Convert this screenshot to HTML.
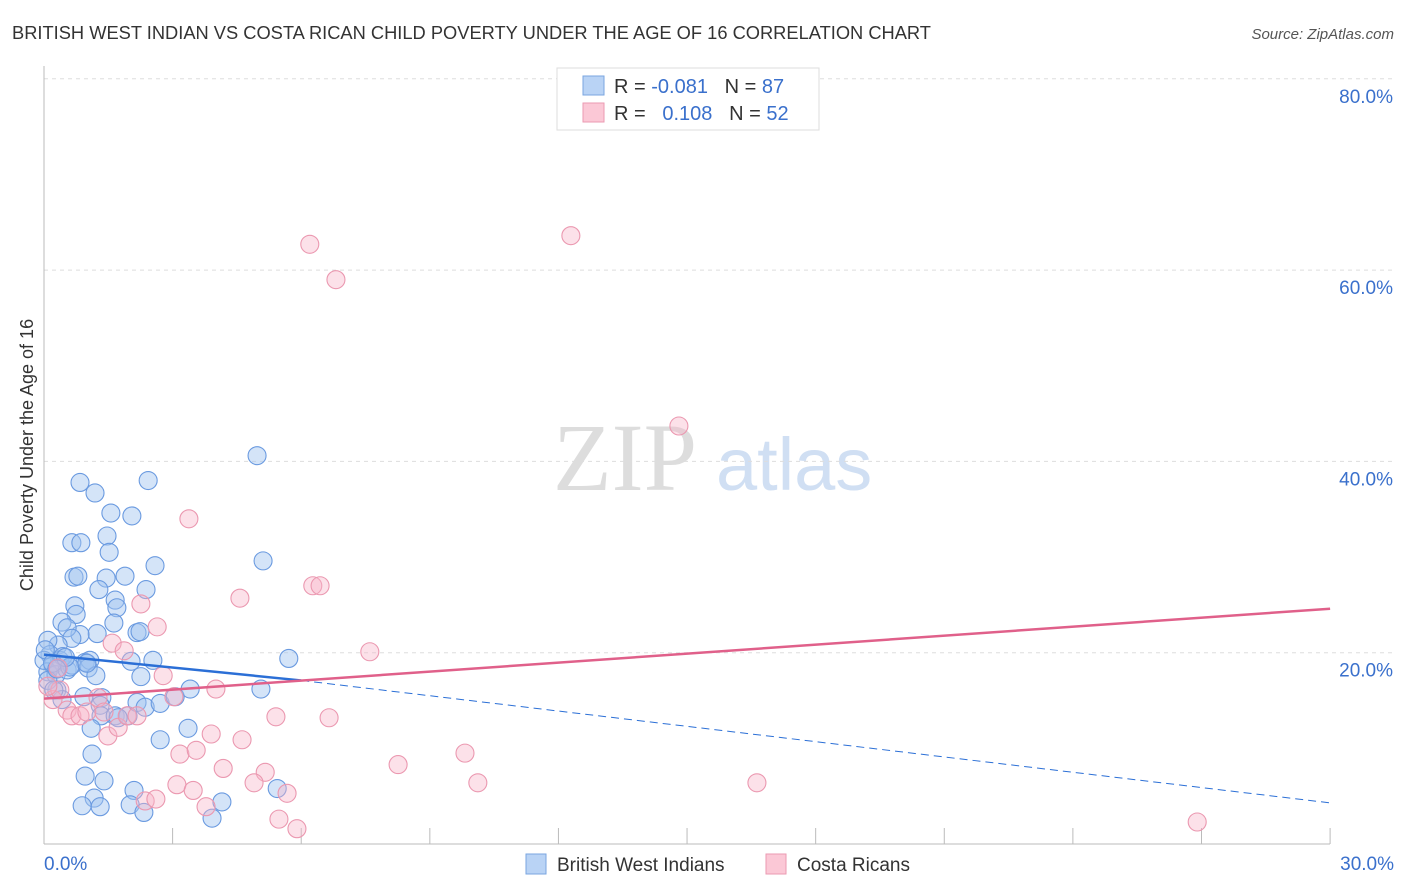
<!DOCTYPE html>
<html><head><meta charset="utf-8"><style>
body{margin:0;background:#fff;font-family:"Liberation Sans",sans-serif}
svg{display:block}
</style></head><body>
<svg id="c" width="1406" height="892">
<text x="12" y="39" font-size="18.3" fill="#333">BRITISH WEST INDIAN VS COSTA RICAN CHILD POVERTY UNDER THE AGE OF 16 CORRELATION CHART</text>
<text x="1394" y="39" font-size="15" fill="#555" font-style="italic" text-anchor="end">Source: ZipAtlas.com</text>
<text x="33" y="455" font-size="18" fill="#333" text-anchor="middle" transform="rotate(-90 33 455)">Child Poverty Under the Age of 16</text>
<text x="553" y="490" font-size="96" fill="#ddd" font-family="Liberation Serif,serif">ZIP</text>
<text x="716" y="490" font-size="74" fill="#d0dff3">atlas</text>
<g id="grid"></g><g id="pts"></g><g id="lines"></g>
<g>
<rect x="557" y="68" width="262" height="62" fill="#fff" stroke="#ddd"/>
<rect x="583" y="76" width="21" height="19" fill="#b9d3f5" stroke="#7aa6e0"/>
<rect x="583" y="103" width="21" height="19" fill="#fbc8d6" stroke="#eb9ab2"/>
<text x="614" y="93" font-size="20" fill="#333" xml:space="preserve">R = <tspan fill="#3a70cc">-0.081</tspan>   N = <tspan fill="#3a70cc">87</tspan></text>
<text x="614" y="120" font-size="20" fill="#333" xml:space="preserve">R =   <tspan fill="#3a70cc">0.108</tspan>   N = <tspan fill="#3a70cc">52</tspan></text>
</g>
<g>
<rect x="526" y="854" width="20" height="20" fill="#b9d3f5" stroke="#7aa6e0"/>
<text x="557" y="871" font-size="19" fill="#333">British West Indians</text>
<rect x="766" y="854" width="20" height="20" fill="#fbc8d6" stroke="#eb9ab2"/>
<text x="797" y="871" font-size="19" fill="#333">Costa Ricans</text>
</g>
</svg>
<script>
const yTicks=[20,40,60,80];
const xTickLabels=["0.0%","30.0%"];
const blueX=[4.97,0.84,1.19,2.43,1.56,2.05,0.65,0.86,1.47,1.52,5.11,2.59,0.7,0.79,1.45,1.89,1.28,2.38,1.66,1.7,0.72,0.75,1.63,2.17,2.24,1.24,0.84,0.42,0.54,0.65,0.33,0.09,0.14,0.21,0.37,0.09,0.28,0.54,0.96,1.07,0.65,1.03,1.21,2.03,2.26,5.71,2.54,0.3,0.42,1.35,1.31,0.93,1.33,1.66,1.96,1.73,2.17,2.36,2.71,3.06,3.41,5.06,3.36,1.1,1.12,0.96,1.4,2.1,5.44,1.17,1.31,0.89,2.01,2.33,3.92,4.15,0,0.03,0.09,0.23,0.44,2.71,0.2,0.6,1.0,0.5,0.3];
const blueY=[40.6,37.8,36.7,38.0,34.6,34.3,31.5,31.5,32.2,30.5,29.6,29.1,27.9,28.0,27.8,28.0,26.6,26.6,25.5,24.7,24.9,24.0,23.1,22.1,22.2,22.0,21.9,23.2,22.6,21.5,20.8,21.3,19.8,18.7,19.2,18.0,17.7,18.2,19.0,19.2,18.7,18.4,17.6,19.1,17.5,19.4,19.2,16.1,15.1,15.3,14.5,15.4,13.4,13.4,13.4,13.2,14.8,14.3,14.7,15.4,16.2,16.2,12.1,12.1,9.4,7.1,6.6,5.6,5.8,4.8,3.9,4.0,4.1,3.3,2.7,4.4,19.2,20.3,17.1,16.1,19.6,10.9,18.9,18.5,18.9,19.5,18.3];
const pinkX=[6.2,6.81,12.29,14.81,3.38,4.57,6.27,6.44,2.26,2.64,1.59,1.87,7.6,2.78,4.01,5.41,6.65,0.21,0.37,0.09,0.54,0.65,0.84,1.0,1.26,1.4,1.49,1.73,1.94,2.17,3.03,3.17,3.55,3.9,4.62,4.18,5.16,4.9,3.1,3.48,5.67,3.78,2.36,2.61,5.48,5.9,8.26,9.82,10.12,16.63,26.9,0.33];
const pinkY=[62.7,59.0,63.6,43.7,34.0,25.7,27.0,27.0,25.1,22.7,21.0,20.2,20.1,17.6,16.2,13.3,13.2,15.1,16.1,16.5,14.0,13.4,13.4,13.8,15.3,13.8,11.3,12.2,13.4,13.4,15.4,9.4,9.8,11.5,10.9,7.9,7.5,6.4,6.2,5.6,5.3,3.9,4.5,4.7,2.6,1.6,8.3,9.5,6.4,6.4,2.3,18.4];
const blueTrend=[[0,19.8],[6.0,17.1],[30,4.3]];
const pinkTrend=[[0,15.2],[30,24.6]];
const X=v=>44+v*42.87, Y=v=>844-v*9.565;
const NS="http://www.w3.org/2000/svg";
function mk(t,a,p){const e=document.createElementNS(NS,t);for(const k in a)e.setAttribute(k,a[k]);p.appendChild(e);return e;}
const g=document.getElementById('grid');
yTicks.forEach(t=>{const l=mk('line',{x1:44,x2:1394,y1:Y(t),y2:Y(t),stroke:'#ddd','stroke-dasharray':'4,4'},g);


const tx=mk('text',{x:1393,y:Y(t)+24,'font-size':19,fill:'#3a70cc','text-anchor':'end'},g);tx.textContent=t+'.0%';

});
const ax=mk('line',{x1:44,x2:44,y1:66,y2:844,stroke:'#bbb'},g);


const bx=mk('line',{x1:44,x2:1330,y1:844,y2:844,stroke:'#bbb'},g);


for(let i=1;i<=10;i++){const tk=mk('line',{x1:X(i*3),x2:X(i*3),y1:828,y2:844,stroke:'#bbb'},g);

}
[[0,44,'start'],[30,1394,'end']].forEach((d,i)=>{const t=mk('text',{x:d[1],y:870,'font-size':19,fill:'#3a70cc','text-anchor':d[2]},g);t.textContent=xTickLabels[i];

});
const p=document.getElementById('pts');
blueX.forEach((v,i)=>{const c=mk('circle',{cx:X(v),cy:Y(blueY[i]),r:9,fill:'rgba(160,196,240,0.45)',stroke:'#6a9ae0','stroke-width':1.1},p);

});
pinkX.forEach((v,i)=>{const c=mk('circle',{cx:X(v),cy:Y(pinkY[i]),r:9,fill:'rgba(248,180,200,0.4)',stroke:'#eb98b0','stroke-width':1.1},p);

});
const L=document.getElementById('lines');
const b1=mk('line',{x1:X(blueTrend[0][0]),y1:Y(blueTrend[0][1]),x2:X(blueTrend[1][0]),y2:Y(blueTrend[1][1]),stroke:'#2b6fd6','stroke-width':2.5},L);


const b2=mk('line',{x1:X(blueTrend[1][0]),y1:Y(blueTrend[1][1]),x2:X(blueTrend[2][0]),y2:Y(blueTrend[2][1]),stroke:'#2b6fd6','stroke-width':1,'stroke-dasharray':'8,5'},L);


const pl=mk('line',{x1:X(pinkTrend[0][0]),y1:Y(pinkTrend[0][1]),x2:X(pinkTrend[1][0]),y2:Y(pinkTrend[1][1]),stroke:'#e0608a','stroke-width':2.5},L);


</script>
</body></html>
